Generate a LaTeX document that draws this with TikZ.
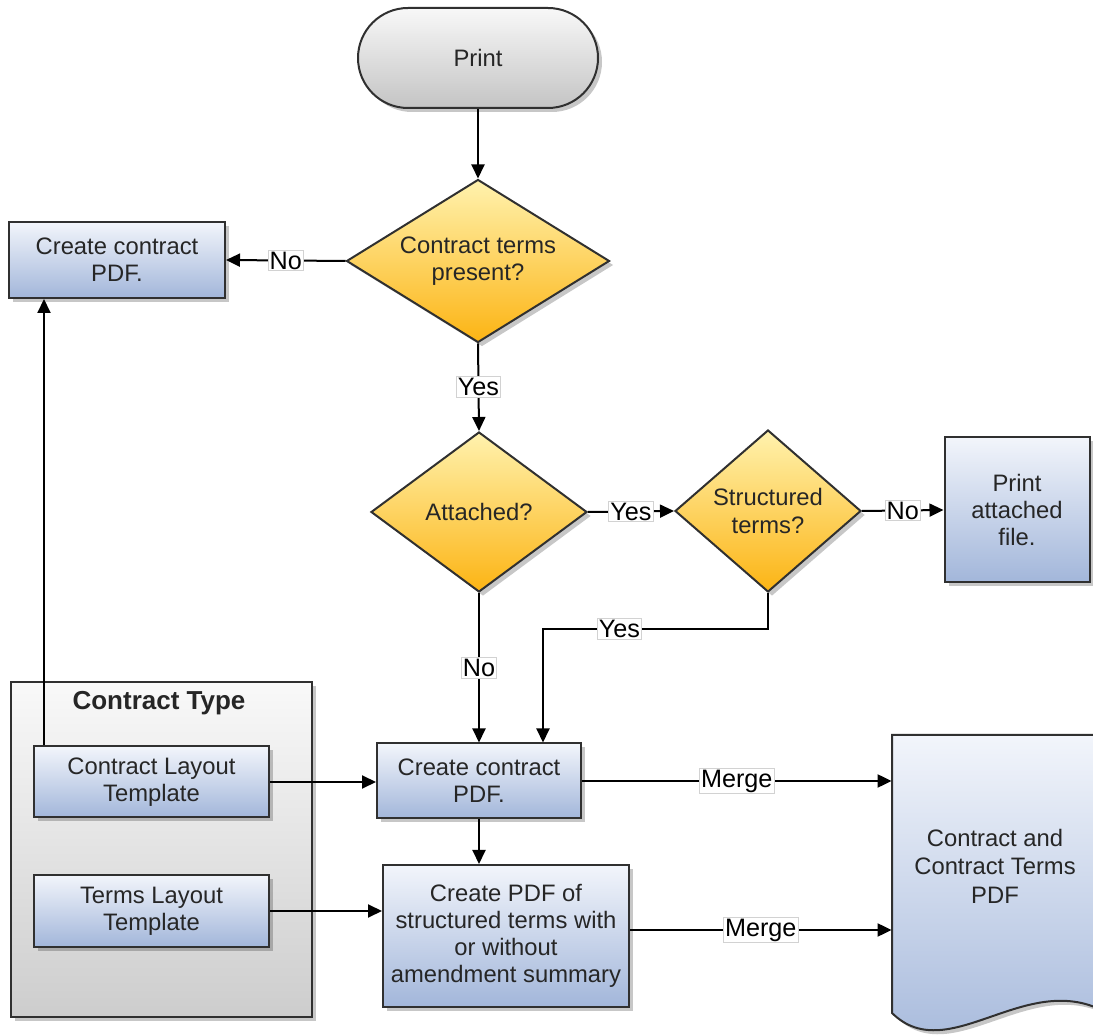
\documentclass[tikz,border=0pt]{standalone}
\usepackage{fontspec}
\setmainfont{Liberation Sans}
\usetikzlibrary{shapes.geometric,arrows.meta,shadows}
\definecolor{txt}{HTML}{262626}
\definecolor{linec}{HTML}{303030}
\definecolor{boxtop}{HTML}{F2F5FB}
\definecolor{boxbot}{HTML}{A2B6DA}
\definecolor{dectop}{HTML}{FFF2AE}
\definecolor{decbot}{HTML}{FCB414}
\definecolor{termtop}{HTML}{F8F8F8}
\definecolor{termbot}{HTML}{C4C4C4}
\definecolor{conttop}{HTML}{F9F9F9}
\definecolor{contbot}{HTML}{CDCDCD}
\begin{document}
\begin{tikzpicture}[x=0.5pt,y=-0.5pt,
  every node/.style={text=txt},
  shad/.style={drop shadow={shadow xshift=2pt,shadow yshift=-2pt,opacity=0.22,fill=black}},
  base/.style={draw=linec, line width=1pt, font=\fontsize{11.9}{13.6}\selectfont, align=center, inner sep=0pt, shad},
  box/.style={base, rectangle, top color=boxtop, bottom color=boxbot},
  dec/.style={base, diamond, top color=dectop, bottom color=decbot},
  term/.style={base, rectangle, rounded corners=25pt, top color=termtop, bottom color=termbot},
  arr/.style={line width=1pt, draw=black, -{Triangle[length=7pt,width=6.5pt]}},
  lbl/.style={fill=white, draw=gray!35, line width=0.4pt, inner sep=0.8pt, font=\fontsize{12.6}{14}\selectfont, text=black}]
\useasboundingbox (0,0) rectangle (1093,1036);

% nodes
\node[term, minimum width=120pt, minimum height=50pt] (print) at (478,58) {Print};
\node[dec, aspect=1.61, minimum width=131.5pt, minimum height=81.5pt] (d1) at (478,261) {Contract terms\\present?};
\node[box, minimum width=108pt, minimum height=38pt] (cpdf1) at (117,260) {Create contract\\PDF.};
\node[dec, aspect=1.35, minimum width=108pt, minimum height=80pt] (d2) at (479,512) {Attached?};
\node[dec, aspect=1.15, minimum width=93pt, minimum height=81pt] (d3) at (768,511) {Structured\\terms?};
\node[box, minimum width=72.5pt, minimum height=72.5pt] (pfile) at (1017,510) {Print\\attached\\file.};

\node[base, rectangle, top color=conttop, bottom color=contbot, minimum width=150.5pt, minimum height=167.5pt] (ctype) at (161.5,849.5) {};
\node[font=\bfseries\fontsize{13}{15}\selectfont] (ctitle) at (159,703) {Contract Type};
\node[box, minimum width=117.5pt, minimum height=35.5pt] (clt) at (151.5,782) {Contract Layout\\Template};
\node[box, minimum width=117.5pt, minimum height=36pt] (tlt) at (151.5,911) {Terms Layout\\Template};

\node[box, minimum width=102pt, minimum height=37.5pt] (cpdf2) at (479,781) {Create contract\\PDF.};
\node[box, minimum width=123pt, minimum height=71pt] (spdf) at (506,936) {Create PDF of\\structured terms with\\or without\\amendment summary};

% document shape
\path[draw=linec, line width=1pt, top color=boxtop, bottom color=boxbot, shad]
  (892,735) -- (1112,735) -- (1112,1016) .. controls (1030,963) and (950,1070) .. (892,1013) -- cycle;
\node[minimum width=110pt, minimum height=139pt, inner sep=0pt] (docbox) at (1002,874) {};
\node[font=\fontsize{11.9}{14.2}\selectfont, align=center] (doctext) at (995,866) {Contract and\\Contract Terms\\PDF};

% connectors
\draw[arr] (print) -- (d1);
\draw[arr] (d1.west) -- (cpdf1.east) node[lbl, midway] {No};
\draw[arr] (d1.south) -- (d2.north) node[lbl, midway] {Yes};
\draw[arr] (d2.east) -- (d3.west) node[lbl, midway] {Yes};
\draw[arr] (d3.east) -- (pfile.west) node[lbl, midway] {No};
\draw[arr] (d3.south) -- ++(0,36) -| ([xshift=32pt]cpdf2.north) node[lbl, pos=0.33] {Yes};
\draw[arr] (d2.south) -- (cpdf2.north) node[lbl, midway] {No};
\draw[arr] (cpdf2.south) -- (cpdf2.south |- spdf.north);
\draw[arr] (clt.east) -- (clt.east -| cpdf2.west);
\draw[arr] (tlt.east) -- (tlt.east -| spdf.west);
\draw[arr] ([xshift=5.5pt]clt.north west) -- ([xshift=5.5pt]clt.north west |- cpdf1.south);
\draw[arr] (cpdf2.east) -- (cpdf2.east -| docbox.west) node[lbl, midway] {Merge};
\draw[arr] ([yshift=3pt]spdf.east) -- ([yshift=3pt]spdf.east -| docbox.west) node[lbl, midway] {Merge};
\end{tikzpicture}
\end{document}
